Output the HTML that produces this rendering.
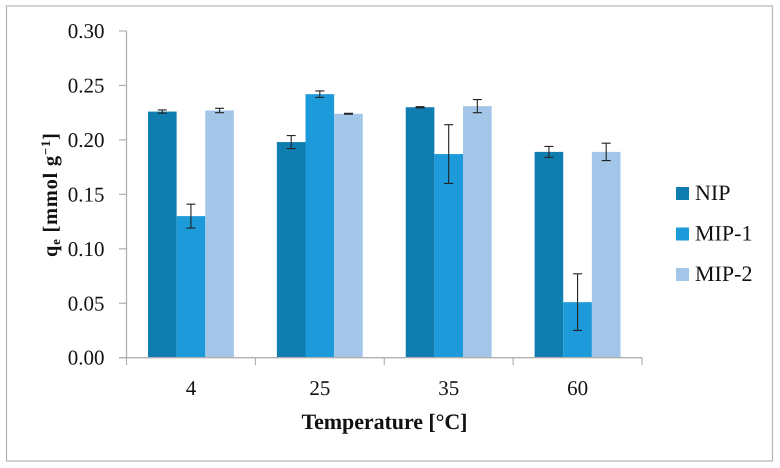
<!DOCTYPE html>
<html>
<head>
<meta charset="utf-8">
<style>
html,body{margin:0;padding:0;background:#fff;width:780px;height:468px;overflow:hidden}
svg{display:block;font-family:"Liberation Serif",serif;fill:#111;text-rendering:geometricPrecision}
</style>
</head>
<body>
<svg id="chart" width="780" height="468" viewBox="0 0 780 468" xmlns="http://www.w3.org/2000/svg">
<rect x="6.5" y="6" width="766" height="455" fill="#fff" stroke="#b3b3b3" stroke-width="1.2"/>
<text transform="translate(57,257) rotate(-90)" font-size="20.5" font-weight="bold" textLength="124" lengthAdjust="spacing">q<tspan font-size="13" dy="3">e</tspan><tspan dy="-3"> [mmol g</tspan><tspan font-size="13" dy="-7">−1</tspan><tspan dy="7">]</tspan></text>
<text x="384.5" y="429" font-size="22" font-weight="bold" text-anchor="middle" textLength="166" lengthAdjust="spacing">Temperature [°C]</text>
<g id="bars"></g>
<g id="errors"></g>
<g id="axes"></g>
<g id="legend"></g>
</svg>
<script>
const categories = ['4', '25', '35', '60'];
const seriesNames = ['NIP', 'MIP-1', 'MIP-2'];
const nipValues = [0.226, 0.198, 0.230, 0.189];
const mip1Values = [0.130, 0.242, 0.187, 0.051];
const mip2Values = [0.227, 0.224, 0.231, 0.189];
const nipErrors = [0.0015, 0.006, 0.0005, 0.005];
const mip1Errors = [0.011, 0.003, 0.027, 0.026];
const mip2Errors = [0.002, 0.0004, 0.006, 0.008];
const yTicks = [0, 0.05, 0.10, 0.15, 0.20, 0.25, 0.30];

const seriesValues = [nipValues, mip1Values, mip2Values];
const seriesErrors = [nipErrors, mip1Errors, mip2Errors];
const seriesColors = ['#107db0', '#1c9ad9', '#a3c6e8'];
const NS = 'http://www.w3.org/2000/svg';
const plotLeft = 126.5, plotRight = 642, plotTop = 31, plotBottom = 357.7;
const yMax = 0.30;
const axisColor = '#b0b0b0';

function yScale(v) { return plotBottom - (v / yMax) * (plotBottom - plotTop); }
function bandWidth() { return (plotRight - plotLeft) / categories.length; }
function barWidth() { return bandWidth() / (seriesValues.length + 1.5); }
function barX(c, s) {
  const w = barWidth();
  return plotLeft + c * bandWidth() + 0.75 * w + s * w;
}
function make(parent, tag, attrs, text) {
  const el = document.createElementNS(NS, tag);
  for (const k in attrs) el.setAttribute(k, attrs[k]);
  if (text !== undefined) el.textContent = text;
  parent.appendChild(el);
  return el;
}

const barsG = document.getElementById('bars');
const errorsG = document.getElementById('errors');
const axesG = document.getElementById('axes');
const legendG = document.getElementById('legend');

seriesValues.forEach((vals, s) => {
  vals.forEach((v, c) => {
    const w = barWidth();
    const x = barX(c, s);
    const bar = make(barsG, 'rect', { x: x, y: yScale(v), width: w, height: plotBottom - yScale(v), fill: seriesColors[s] });
    
    

    const e = seriesErrors[s][c];
    const cx = x + w / 2;
    const err = make(errorsG, 'path', {
      d: 'M' + (cx - 4.5) + ' ' + yScale(v + e) + 'H' + (cx + 4.5) +
         'M' + cx + ' ' + yScale(v + e) + 'V' + yScale(v - e) +
         'M' + (cx - 4.5) + ' ' + yScale(v - e) + 'H' + (cx + 4.5),
      fill: 'none', stroke: '#222', 'stroke-width': 1.1
    });
    
    
  });
});

const yAxisLine = make(axesG, 'line', { x1: plotLeft, x2: plotLeft, y1: plotTop, y2: plotBottom, stroke: axisColor, 'stroke-width': 1.3 });


const xAxisLine = make(axesG, 'line', { x1: plotLeft - 7.5, x2: plotRight, y1: plotBottom, y2: plotBottom, stroke: axisColor, 'stroke-width': 1.3 });



yTicks.forEach(t => {
  const y = yScale(t);
  const tick = make(axesG, 'line', { x1: plotLeft - 7.5, x2: plotLeft, y1: y, y2: y, stroke: axisColor, 'stroke-width': 1.2 });
  
  
  const label = make(axesG, 'text', { x: 104.5, y: y + 7, 'font-size': 21, 'text-anchor': 'end' }, t.toFixed(2));
  
  
});

for (let i = 0; i <= categories.length; i++) {
  const x = plotLeft + i * bandWidth();
  const tick = make(axesG, 'line', { x1: x, x2: x, y1: plotBottom, y2: plotBottom + 7.5, stroke: axisColor, 'stroke-width': 1.2 });
  
  
}
categories.forEach((c, i) => {
  const label = make(axesG, 'text', { x: plotLeft + (i + 0.5) * bandWidth(), y: 395, 'font-size': 21, 'text-anchor': 'middle' }, c);
  
  
});

seriesNames.forEach((name, s) => {
  const top = 187 + s * 40.5;
  const swatch = make(legendG, 'rect', { x: 676, y: top, width: 13, height: 13, fill: seriesColors[s] });
  
  
  const label = make(legendG, 'text', { x: 695, y: top + 13, 'font-size': 22 }, name);
  
  
});
</script>
</body>
</html>
